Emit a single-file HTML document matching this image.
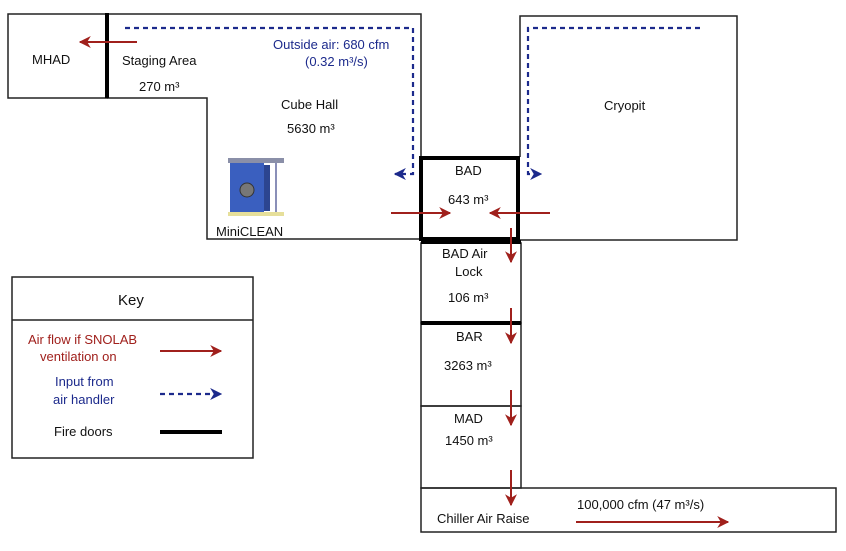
<!DOCTYPE html>
<html><head><meta charset="utf-8"><style>
body{margin:0;background:#fff}
svg text{font-family:"Liberation Sans",sans-serif;font-size:13px;fill:#111}
</style></head><body>
<svg width="846" height="546" viewBox="0 0 846 546" xmlns="http://www.w3.org/2000/svg">
<defs>
<marker id="r" viewBox="0 0 10 10" refX="9" refY="5" markerWidth="6" markerHeight="6" orient="auto"><path d="M0,0L10,5L0,10L3,5z" fill="#a0201c"/></marker>
<marker id="b" viewBox="0 0 10 10" refX="9" refY="5" markerWidth="5.5" markerHeight="5.5" orient="auto"><path d="M0,0L10,5L0,10L3,5z" fill="#1c2a8c"/></marker>
</defs>
<g fill="none" stroke="#222" stroke-width="1.5">
<rect x="8" y="14" width="99" height="84"/>
<path d="M107,14H421V239H207V98H107"/>
<path d="M518,240H737V16H520V157"/>
<rect x="421" y="243" width="100" height="80"/>
<rect x="421" y="323" width="100" height="83"/>
<rect x="421" y="406" width="100" height="82"/>
<rect x="421" y="488" width="415" height="44"/>
</g>
<g stroke="#000" stroke-width="4" fill="none">
<line x1="107" y1="13" x2="107" y2="98"/>
<rect x="421" y="158" width="97" height="81"/>
<line x1="421" y1="323" x2="521" y2="323"/>
<line x1="421" y1="242" x2="521" y2="242"/>
</g>
<g stroke="#1c2a8c" stroke-width="2.2" stroke-dasharray="5,4" fill="none">
<path d="M125,28H413V174H395" marker-end="url(#b)"/>
<path d="M700,28H528V174H541" marker-end="url(#b)"/>
</g>
<g stroke="#a0201c" stroke-width="2" fill="none">
<line x1="137" y1="42" x2="80" y2="42" marker-end="url(#r)"/>
<line x1="391" y1="213" x2="450" y2="213" marker-end="url(#r)"/>
<line x1="550" y1="213" x2="490" y2="213" marker-end="url(#r)"/>
<line x1="511" y1="228" x2="511" y2="262" marker-end="url(#r)"/>
<line x1="511" y1="308" x2="511" y2="343" marker-end="url(#r)"/>
<line x1="511" y1="390" x2="511" y2="425" marker-end="url(#r)"/>
<line x1="511" y1="470" x2="511" y2="505" marker-end="url(#r)"/>
<line x1="576" y1="522" x2="728" y2="522" marker-end="url(#r)"/>
</g>
<rect x="228" y="158" width="56" height="5" fill="#8a8fa8"/>
<rect x="230" y="163" width="34" height="50" fill="#3a5fbf"/>
<rect x="264" y="165" width="6" height="46" fill="#2c4590"/>
<line x1="276" y1="163" x2="276" y2="214" stroke="#8a8fb8" stroke-width="2"/>
<circle cx="247" cy="190" r="7" fill="#777" stroke="#333"/>
<rect x="228" y="212" width="56" height="4" fill="#e6df9a"/>
<g>
<text x="32" y="64">MHAD</text>
<text x="122" y="65">Staging Area</text>
<text x="139" y="91">270 m³</text>
<text x="281" y="109">Cube Hall</text>
<text x="287" y="133">5630 m³</text>
<text x="273" y="49" style="fill:#1c2a8c">Outside air: 680 cfm</text>
<text x="305" y="66" style="fill:#1c2a8c">(0.32 m³/s)</text>
<text x="216" y="236">MiniCLEAN</text>
<text x="604" y="110">Cryopit</text>
<text x="455" y="175">BAD</text>
<text x="448" y="204">643 m³</text>
<text x="442" y="258">BAD Air</text>
<text x="455" y="276">Lock</text>
<text x="448" y="302">106 m³</text>
<text x="456" y="341">BAR</text>
<text x="444" y="370">3263 m³</text>
<text x="454" y="423">MAD</text>
<text x="445" y="445">1450 m³</text>
<text x="437" y="523">Chiller Air Raise</text>
<text x="577" y="509">100,000 cfm (47 m³/s)</text>
</g>
<rect x="12" y="277" width="241" height="181" fill="none" stroke="#222" stroke-width="1.5"/>
<line x1="12" y1="320" x2="253" y2="320" stroke="#222" stroke-width="1.5"/>
<text x="118" y="305" style="font-size:15px">Key</text>
<text x="28" y="344" style="fill:#a0201c">Air flow if SNOLAB</text>
<text x="40" y="361" style="fill:#a0201c">ventilation on</text>
<line x1="160" y1="351" x2="221" y2="351" stroke="#a0201c" stroke-width="2" marker-end="url(#r)"/>
<text x="55" y="386" style="fill:#1c2a8c">Input from</text>
<text x="53" y="404" style="fill:#1c2a8c">air handler</text>
<line x1="160" y1="394" x2="221" y2="394" stroke="#1c2a8c" stroke-width="2.2" stroke-dasharray="5,4" marker-end="url(#b)"/>
<text x="54" y="436">Fire doors</text>
<line x1="160" y1="432" x2="222" y2="432" stroke="#000" stroke-width="4"/>
</svg>
</body></html>
